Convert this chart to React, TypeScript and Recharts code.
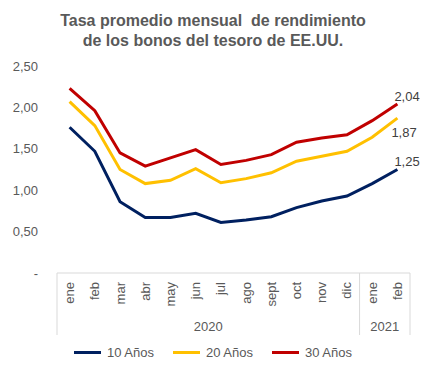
import { LineChart, Line, XAxis, YAxis, Legend } from "recharts";

const months = ["ene", "feb", "mar", "abr", "may", "jun", "jul", "ago", "sept", "oct", "nov", "dic", "ene", "feb"];
const years = ["2020", "2020", "2020", "2020", "2020", "2020", "2020", "2020", "2020", "2020", "2020", "2020", "2021", "2021"];
const tenYears = [1.76, 1.47, 0.86, 0.67, 0.67, 0.72, 0.61, 0.64, 0.68, 0.79, 0.87, 0.93, 1.08, 1.25];
const twentyYears = [2.07, 1.78, 1.25, 1.08, 1.12, 1.26, 1.09, 1.14, 1.21, 1.35, 1.41, 1.47, 1.64, 1.87];
const thirtyYears = [2.23, 1.96, 1.45, 1.29, 1.39, 1.49, 1.31, 1.36, 1.43, 1.58, 1.63, 1.67, 1.84, 2.04];
const yTicks = [0, 0.5, 1, 1.5, 2, 2.5];

const series = [
  { key: "ten", name: "10 Años", color: "#002060", labelDy: -8 },
  { key: "twenty", name: "20 Años", color: "#FFC000", labelDy: 14 },
  { key: "thirty", name: "30 Años", color: "#C00000", labelDy: -8 },
];

const data = months.map((m, i) => ({
  id: `${years[i]}-${m}-${i}`,
  ten: tenYears[i],
  twenty: twentyYears[i],
  thirty: thirtyYears[i],
}));

const FONT = "'Liberation Sans', Arial, sans-serif";
const TEXT = "#595959";
const GRID = "#d9d9d9";

const fmt = (v: number) => (v === 0 ? "-" : v.toFixed(2).replace(".", ","));

const MonthTick = (props: any) => {
  const { x, y, payload, index, width } = props;
  const half = payload.offset || width / months.length / 2;
  const year = years[index];
  const first = years.indexOf(year);
  const count = years.filter((v) => v === year).length;
  const isLast = index === months.length - 1;
  return (
    <g>
      <text
        transform={`translate(${x},${y + 9}) rotate(-90)`}
        textAnchor="end"
        dominantBaseline="central"
        fontSize={13}
        fontFamily={FONT}
        fill={TEXT}
      >
        {months[index]}
      </text>
      {index === first && (
        <>
          <line x1={x - half} x2={x - half} y1={y} y2={y + 62} stroke={GRID} />
          <text
            x={x - half + count * half}
            y={y + 58}
            textAnchor="middle"
            fontSize={13}
            fontFamily={FONT}
            fill={TEXT}
          >
            {year}
          </text>
        </>
      )}
      {isLast && <line x1={x + half} x2={x + half} y1={y} y2={y + 62} stroke={GRID} />}
    </g>
  );
};

const EndLabel = (dy: number) => (props: any) => {
  const { x, y, index, value } = props;
  if (index !== months.length - 1) return null;
  return (
    <text
      x={x - (dy > 0 ? 6 : 3)}
      y={y + dy}
      dominantBaseline="central"
      fontSize={13}
      fontFamily={FONT}
      fill="#404040"
    >
      {fmt(value)}
    </text>
  );
};

const LegendContent = () => (
  <div
    style={{
      display: "flex",
      justifyContent: "center",
      gap: 19,
      height: 22,
      alignItems: "center",
      fontFamily: FONT,
      fontSize: 13,
      color: TEXT,
    }}
  >
    {series.map((s) => (
      <div key={s.key} style={{ display: "flex", alignItems: "center" }}>
        <span style={{ display: "inline-block", width: 27, height: 3, background: s.color, marginRight: 6 }} />
        {s.name}
      </div>
    ))}
  </div>
);

export default function App() {
  return (
    <div style={{ position: "absolute", left: 0, top: 0, width: 426, height: 372, background: "#fff" }}>
      <div
        style={{
          position: "absolute",
          top: 11,
          left: 0,
          width: 426,
          textAlign: "center",
          fontFamily: FONT,
          fontWeight: "bold",
          fontSize: 16,
          lineHeight: "20px",
          color: TEXT,
          whiteSpace: "pre",
        }}
      >
        {"Tasa promedio mensual  de rendimiento\nde los bonos del tesoro de EE.UU."}
      </div>
      <LineChart width={426} height={372} data={data} margin={{ top: 66, right: 16, bottom: 9, left: 0 }}>
        <XAxis
          dataKey="id"
          scale="band"
          interval={0}
          height={68}
          tickLine={false}
          tickSize={0}
          tickMargin={0}
          axisLine={{ stroke: GRID }}
          tick={<MonthTick />}
        />
        <YAxis
          domain={[0, 2.5]}
          ticks={yTicks}
          width={57}
          axisLine={false}
          tickLine={false}
          tickSize={0}
          tickMargin={19}
          tickFormatter={fmt}
          tick={{ fontSize: 13, fontFamily: FONT, fill: TEXT }}
        />
        <Legend verticalAlign="bottom" content={<LegendContent />} wrapperStyle={{ left: 0, width: 426 }} />
        {series.map((s) => (
          <Line
            key={s.key}
            dataKey={s.key}
            name={s.name}
            stroke={s.color}
            strokeWidth={3}
            dot={false}
            isAnimationActive={false}
            label={EndLabel(s.labelDy)}
          />
        ))}
      </LineChart>
    </div>
  );
}
